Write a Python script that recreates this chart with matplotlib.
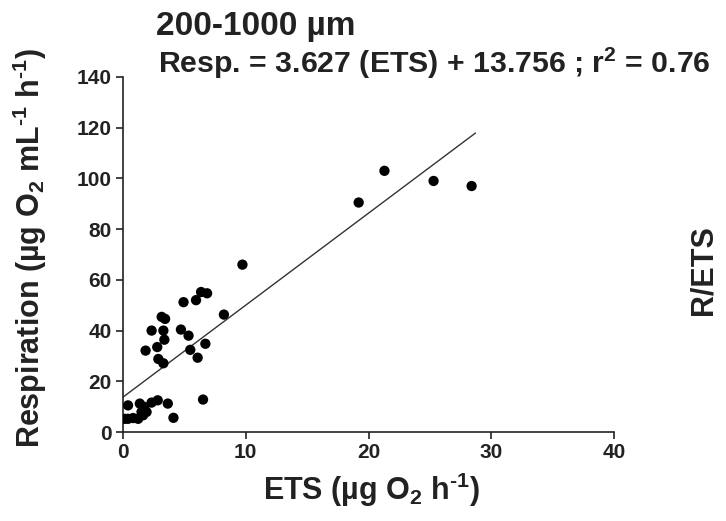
import matplotlib
matplotlib.use("Agg")
import matplotlib.pyplot as plt
import numpy as np

plt.rcParams['font.family'] = ['Liberation Sans', 'DejaVu Sans']
plt.rcParams['font.weight'] = 'bold'
plt.rcParams['mathtext.fontset'] = 'custom'
plt.rcParams['mathtext.rm'] = 'Liberation Sans:bold'
plt.rcParams['mathtext.it'] = 'Liberation Sans:bold'
plt.rcParams['mathtext.bf'] = 'Liberation Sans:bold'
plt.rcParams['mathtext.default'] = 'regular'

# Data (ETS, Respiration)
ets = [9.73, 6.36, 6.85, 5.95, 4.93, 8.22, 3.15, 3.43, 2.33, 3.29, 4.72, 5.34,
       3.37, 2.79, 6.71, 1.84, 5.48, 2.88, 3.29, 6.08, 6.52,
       0.41, 1.37, 1.73, 2.33, 2.83, 3.65, 4.11, 0.41, 0.82, 1.23, 1.64, 1.92,
       1.51, 0.14,
       19.2, 21.3, 25.3, 28.4]
resp = [66.0, 55.2, 54.7, 52.0, 51.2, 46.3, 45.4, 44.6, 40.0, 40.0, 40.4, 38.0,
        36.4, 33.5, 34.8, 32.1, 32.4, 28.8, 27.1, 29.3, 12.8,
        10.5, 11.2, 9.9, 11.6, 12.5, 11.2, 5.6, 5.2, 5.5, 5.2, 6.6, 7.9,
        7.9, 5.2,
        90.5, 103.0, 99.0, 97.0]

slope = 3.627
intercept = 13.756
fit_x = [0, 28.7]

xticks = [0, 10, 20, 30, 40]
yticks = [0, 20, 40, 60, 80, 100, 120, 140]

fig = plt.figure(figsize=(7.26, 5.21), dpi=100)
ax = fig.add_axes([123/726, 1-432/521, (614-123)/726, (432-77)/521])

fx = np.array(fit_x)
ax.plot(fx, slope*fx + intercept, color='#333333', lw=1.0, zorder=2)
ax.scatter(ets, resp, s=55, color='black', edgecolors='none', zorder=3)

ax.set_xlim(0, 40)
ax.set_ylim(0, 140)
ax.set_xticks(xticks)
ax.set_yticks(yticks)
for s in ['top', 'right']:
    ax.spines[s].set_visible(False)
for s in ['left', 'bottom']:
    ax.spines[s].set_linewidth(1.2)
    ax.spines[s].set_color('#222222')
ax.tick_params(axis='both', direction='out', length=5, width=1.2,
               labelsize=15, pad=3, colors='#222222', labelcolor='#222222')
for lab in ax.get_xticklabels() + ax.get_yticklabels():
    lab.set_fontweight('bold')

fig.text(372/726, 1-490/521, r'ETS (µg O$_2$ h$^{\text{-1}}$)', fontsize=22, fontweight='bold',
         color='#222222', ha='center', va='center')
fig.text(30/726, 1-248/521, r'Respiration (µg O$_2$ mL$^{\text{-1}}$ h$^{\text{-1}}$)', rotation=90,
         fontsize=22, fontweight='bold', color='#222222', ha='center', va='center')

fig.text(355/726, 1-26/521, '200-1000 µm', fontsize=24, fontweight='bold',
         color='#222222', ha='right', va='center')
fig.text(158/726, 1-63/521, 'Resp. = 3.627 (ETS) + 13.756 ; r$^2$ = 0.76', fontsize=21.8,
         fontweight='bold', color='#222222', ha='left', va='center')
fig.text(704/726, 1-270/521, 'R/ETS', rotation=90, fontsize=22, fontweight='bold',
         color='#222222', ha='center', va='center')

fig.savefig('out.png', dpi=100)
